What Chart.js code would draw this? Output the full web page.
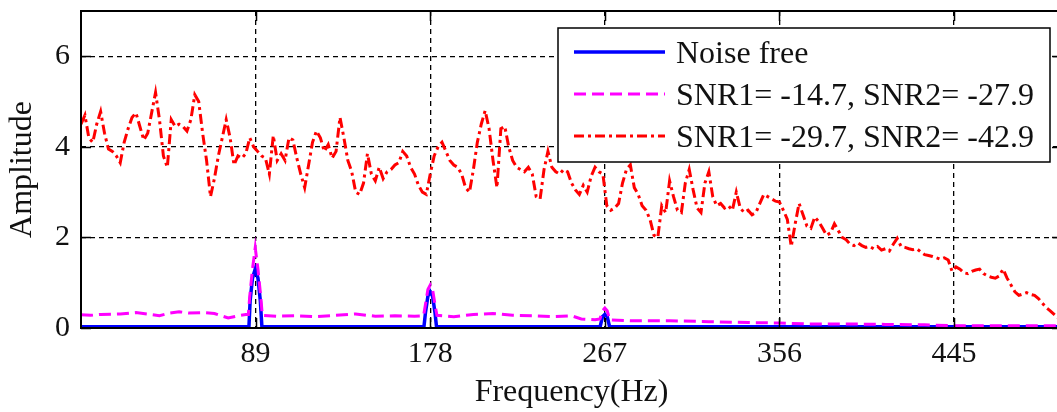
<!DOCTYPE html>
<html>
<head>
<meta charset="utf-8">
<script src="https://cdn.jsdelivr.net/npm/chart.js@4.4.0/dist/chart.umd.min.js"></script>
<style>
  html, body { margin: 0; padding: 0; background: #fff; overflow: hidden; }
  #wrap { width: 1057px; height: 412px; overflow: hidden; position: relative; }
  #box { width: 1075px; height: 412px; position: absolute; left: 0; top: 0; }
</style>
</head>
<body>
<div id="wrap"><div id="box"><canvas id="c"></canvas></div></div>
<script>
// Axis ticks
const freqTicks = [89, 178, 267, 356, 445];
const ampTicks = [0, 2, 4, 6];

// Noise-free spectrum (Hz, amplitude)
const noiseFreeHz  = [0, 85.6, 86.2, 87.4, 88.8, 90.2, 91.4, 92.2, 174.8, 175.6, 176.8, 178, 179.2, 180.4, 181.2, 264.6, 265.8, 267, 268.2, 269.4, 500];
const noiseFreeAmp = [0.03, 0.03, 0.6, 1.1, 1.3, 1.1, 0.6, 0.03, 0.03, 0.35, 0.7, 0.8, 0.7, 0.35, 0.03, 0.03, 0.25, 0.3, 0.25, 0.03, 0.03];

// SNR1 = -14.7, SNR2 = -27.9
const lowNoiseHz  = [0, 5, 10, 20, 28, 35, 40, 45, 50, 55, 62, 68, 75, 80, 84, 85.3, 86, 87.4, 88.8, 90.2, 91.6, 92.4,
                     100, 110, 120, 130, 140, 150, 160, 170, 174.6, 175.5, 176.8, 178, 179.2, 180.5, 181.4,
                     190, 200, 210, 220, 230, 240, 250, 255, 262, 264.5, 265.8, 267, 268.2, 269.5,
                     280, 300, 320, 340, 356, 370, 390, 410, 430, 445, 470, 500];
const lowNoiseAmp = [0.29, 0.28, 0.3, 0.31, 0.34, 0.3, 0.27, 0.33, 0.36, 0.33, 0.34, 0.32, 0.22, 0.27, 0.3, 0.3, 0.7, 1.3, 1.77, 1.3, 0.7, 0.28,
                     0.26, 0.27, 0.25, 0.28, 0.31, 0.26, 0.27, 0.26, 0.27, 0.5, 0.85, 0.95, 0.85, 0.5, 0.28,
                     0.25, 0.3, 0.32, 0.28, 0.27, 0.25, 0.27, 0.2, 0.18, 0.2, 0.38, 0.44, 0.38, 0.18,
                     0.16, 0.16, 0.14, 0.12, 0.11, 0.09, 0.09, 0.08, 0.07, 0.05, 0.05, 0.05];

// SNR1 = -29.7, SNR2 = -42.9, sampled every 2 Hz from 0 to 500 Hz
const highNoiseAmp = [
  4.5, 4.7, 4.2, 4.1, 4.5, 4.78, 4.3, 3.95, 3.9, 3.8,
  3.65, 4.1, 4.4, 4.65, 4.75, 4.45, 4.15, 4.3, 4.75, 5.2,
  4.6, 3.8, 3.55, 4.6, 4.45, 4.5, 4.45, 4.35, 4.6, 5.15,
  5.0, 4.3, 3.7, 2.9, 3.3, 3.8, 4.2, 4.6, 4.2, 3.6,
  3.8, 3.75, 3.85, 4.2, 4.0, 3.9, 3.8, 3.75, 3.4, 4.25,
  3.7, 3.85, 3.7, 4.2, 4.15, 3.75, 3.4, 3.1, 3.6, 4.1,
  4.35, 4.2, 3.9, 4.05, 3.75, 3.9, 4.65, 4.2, 3.7, 3.45,
  3.0, 2.95, 3.2, 3.85, 3.4, 3.25, 3.55, 3.3, 3.45, 3.5,
  3.6, 3.65, 3.9, 3.8, 3.55, 3.4, 3.15, 3.0, 2.95, 3.4,
  3.8, 4.0, 4.1, 3.9, 3.7, 3.6, 3.55, 3.4, 3.1, 3.0,
  3.5, 4.1, 4.5, 4.8, 4.4, 3.7, 3.1, 4.4, 4.45, 4.0,
  3.7, 3.55, 3.5, 3.45, 3.55, 3.4, 2.9, 2.85, 3.5, 3.9,
  3.55, 3.45, 3.4, 3.5, 3.45, 3.2, 3.05, 2.95, 3.15, 3.0,
  3.35, 3.55, 3.45, 3.4, 2.7, 2.6, 2.65, 2.75, 3.2, 3.5,
  3.6, 3.1, 2.95, 2.7, 2.6, 2.4, 2.05, 2.0, 2.7, 2.55,
  3.25, 2.9, 2.6, 2.55, 3.2, 3.5, 3.05, 2.65, 2.55, 3.2,
  3.45, 2.9, 2.7, 2.75, 2.65, 2.7, 2.6, 3.0, 2.65, 2.55,
  2.6, 2.5, 2.55, 2.75, 2.95, 2.9, 2.85, 2.8, 2.78, 2.6,
  2.4, 1.8, 2.3, 2.75, 2.5, 2.25, 2.2, 2.45, 2.35, 2.2,
  2.05, 2.1, 2.3, 2.15, 2.0, 1.95, 1.85, 1.82, 1.88, 1.82,
  1.78, 1.8, 1.75, 1.8, 1.72, 1.75, 1.7, 1.85, 1.98, 1.8,
  1.78, 1.75, 1.73, 1.75, 1.68, 1.62, 1.6, 1.58, 1.55, 1.52,
  1.55, 1.5, 1.25, 1.35, 1.3, 1.22, 1.2, 1.25, 1.28, 1.3,
  1.2, 1.15, 1.12, 1.1, 1.15, 1.3, 1.1, 0.95, 0.8, 0.72,
  0.75, 0.78, 0.74, 0.72, 0.65, 0.55, 0.45, 0.38, 0.3, 0.22,
  0.15
];
const highNoiseHz = highNoiseAmp.map((_, i) => i * 2);

const seriesLabels = ['Noise free', 'SNR1= -14.7, SNR2= -27.9', 'SNR1= -29.7, SNR2= -42.9'];

const SERIF = "'Liberation Serif', 'Times New Roman', serif";
const INK = '#111';

const pairs = (xs, ys) => xs.map((x, i) => ({ x: x, y: ys[i] }));

// Inward tick marks and the axes frame
const framePlugin = {
  id: 'frame',
  afterDraw(chart) {
    const { ctx, chartArea: a, scales } = chart;
    const len = 10;
    ctx.save();
    ctx.strokeStyle = '#000';
    ctx.lineWidth = 1.5;
    ctx.setLineDash([]);
    ctx.beginPath();
    freqTicks.forEach(v => {
      const px = Math.round(scales.x.getPixelForValue(v)) + 0.5;
      ctx.moveTo(px, a.bottom); ctx.lineTo(px, a.bottom - len);
      ctx.moveTo(px, a.top); ctx.lineTo(px, a.top + len);
    });
    ampTicks.forEach(v => {
      const py = Math.round(scales.y.getPixelForValue(v)) + 0.5;
      ctx.moveTo(a.left, py); ctx.lineTo(a.left + len, py);
      ctx.moveTo(a.right, py); ctx.lineTo(a.right - len, py);
    });
    ctx.stroke();
    ctx.lineWidth = 2;
    ctx.strokeRect(a.left, a.top, a.right - a.left, a.bottom - a.top);
    ctx.restore();
  }
};

// Boxed legend in the upper right of the plot
const boxLegendPlugin = {
  id: 'boxLegend',
  afterDatasetsDraw(chart) {
    const { ctx } = chart;
    const x0 = 558, y0 = 28, x1 = 1050, y1 = 162;
    ctx.save();
    ctx.fillStyle = '#fff';
    ctx.fillRect(x0, y0, x1 - x0, y1 - y0);
    ctx.strokeStyle = '#000';
    ctx.lineWidth = 1.5;
    ctx.setLineDash([]);
    ctx.strokeRect(x0, y0, x1 - x0, y1 - y0);
    const rows = [52, 94, 136];
    chart.data.datasets.forEach((ds, i) => {
      const y = rows[i];
      ctx.strokeStyle = ds.borderColor;
      ctx.lineWidth = ds.borderWidth;
      ctx.setLineDash(ds.borderDash || []);
      ctx.beginPath();
      ctx.moveTo(574, y);
      ctx.lineTo(665, y);
      ctx.stroke();
      ctx.setLineDash([]);
      ctx.fillStyle = INK;
      ctx.font = '32px ' + SERIF;
      ctx.textBaseline = 'middle';
      ctx.textAlign = 'left';
      ctx.fillText(ds.label, 676, y + 3);
    });
    ctx.restore();
  }
};

new Chart(document.getElementById('c'), {
  type: 'line',
  data: {
    datasets: [
      {
        label: seriesLabels[0],
        data: pairs(noiseFreeHz, noiseFreeAmp),
        borderColor: '#0000ff', borderWidth: 3.5,
        pointRadius: 0, tension: 0, order: 3
      },
      {
        label: seriesLabels[1],
        data: pairs(lowNoiseHz, lowNoiseAmp),
        borderColor: '#ff00ff', borderWidth: 3, borderDash: [12, 6],
        pointRadius: 0, tension: 0, order: 2
      },
      {
        label: seriesLabels[2],
        data: pairs(highNoiseHz, highNoiseAmp),
        borderColor: '#ff0000', borderWidth: 3, borderDash: [10, 4, 3, 4],
        pointRadius: 0, tension: 0, order: 1
      }
    ]
  },
  options: {
    responsive: true,
    maintainAspectRatio: false,
    animation: false,
    devicePixelRatio: 1,
    layout: { padding: { top: 11, right: 13, bottom: 0, left: 0 } },
    plugins: { legend: { display: false }, tooltip: { enabled: false } },
    scales: {
      x: {
        type: 'linear', min: 0, max: 500,
        afterBuildTicks: s => { s.ticks = freqTicks.map(v => ({ value: v })); },
        afterFit: s => { s.height = 84; s.paddingLeft = 0; s.paddingRight = 0; },
        grid: { color: '#000', lineWidth: 1.3, drawTicks: false },
        border: { display: false, dash: [5, 4] },
        ticks: { font: { family: SERIF, size: 30 }, color: INK, padding: 8, maxRotation: 0, autoSkip: false },
        title: { display: true, text: 'Frequency(Hz)', font: { family: SERIF, size: 32 }, color: INK, padding: { top: 0, bottom: 0 } }
      },
      y: {
        type: 'linear', min: 0, max: 7,
        afterBuildTicks: s => { s.ticks = ampTicks.map(v => ({ value: v })); },
        afterFit: s => { s.width = 81; s.paddingTop = 0; s.paddingBottom = 0; },
        grid: { color: '#000', lineWidth: 1.3, drawTicks: false },
        border: { display: false, dash: [5, 4] },
        ticks: { font: { family: SERIF, size: 30 }, color: INK, padding: 11 },
        title: { display: true, text: 'Amplitude', font: { family: SERIF, size: 32 }, color: INK, padding: { top: 3, bottom: 0 } }
      }
    }
  },
  plugins: [boxLegendPlugin, framePlugin]
});
</script>
</body>
</html>
